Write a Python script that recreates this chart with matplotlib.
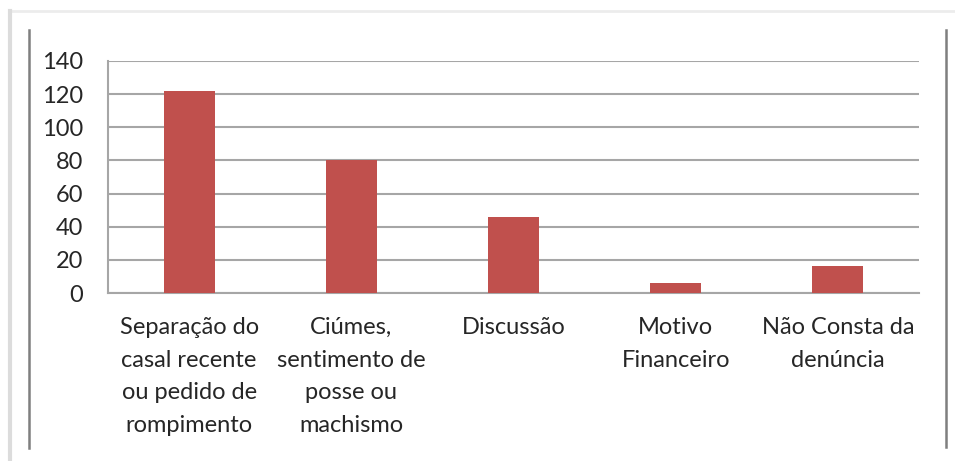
import matplotlib
matplotlib.use("Agg")
import matplotlib.pyplot as plt
from matplotlib.lines import Line2D

categories = [
    "Separação do\ncasal recente\nou pedido de\nrompimento",
    "Ciúmes,\nsentimento de\nposse ou\nmachismo",
    "Discussão",
    "Motivo\nFinanceiro",
    "Não Consta da\ndenúncia",
]
values = [122, 80, 46, 6, 16]
yticks = [0, 20, 40, 60, 80, 100, 120, 140]

plt.rcParams['font.family'] = ['Lato', 'DejaVu Sans']

fig = plt.figure(figsize=(9.55, 4.61), dpi=100)
fig.patch.set_facecolor('white')

# frame decorations (shadowed border)
fig.add_artist(Line2D([10/955, 1.0], [1-11/461, 1-11/461], transform=fig.transFigure,
                      color='#ececec', lw=2))
fig.add_artist(Line2D([10/955, 10/955], [1-11/461, 0.0], transform=fig.transFigure,
                      color='#dcdcdc', lw=3))
fig.add_artist(Line2D([29/955, 29/955], [1-30/461, 1-448/461], transform=fig.transFigure,
                      color='#7f7f7f', lw=1.8))
fig.add_artist(Line2D([946/955, 946/955], [1-30/461, 1-447/461], transform=fig.transFigure,
                      color='#7f7f7f', lw=1.8))

ax = fig.add_axes([108/955, (461-293)/461, (919-108)/955, (293-61)/461])
x = list(range(len(categories)))
ax.bar(x, values, width=0.315, color='#C0504D', zorder=3)
ax.set_xlim(-0.5, len(categories) - 0.5)
ax.set_ylim(0, 140)
ax.set_yticks(yticks)
ax.set_yticklabels([str(v) for v in yticks])
ax.set_xticks(x)
ax.set_xticklabels(categories, linespacing=1.7)
ax.yaxis.grid(True, color='#a6a6a6', lw=1.5, zorder=0)
ax.tick_params(axis='both', length=0, labelsize=17, colors='#262626')
ax.tick_params(axis='y', pad=18)
ax.tick_params(axis='x', pad=17)
for s in ['top', 'right']:
    ax.spines[s].set_visible(False)
ax.spines['left'].set_color('#a6a6a6')
ax.spines['bottom'].set_color('#a6a6a6')
ax.spines['left'].set_linewidth(1.5)
ax.spines['bottom'].set_linewidth(1.5)

fig.savefig('out.png', dpi=100, facecolor='white')
